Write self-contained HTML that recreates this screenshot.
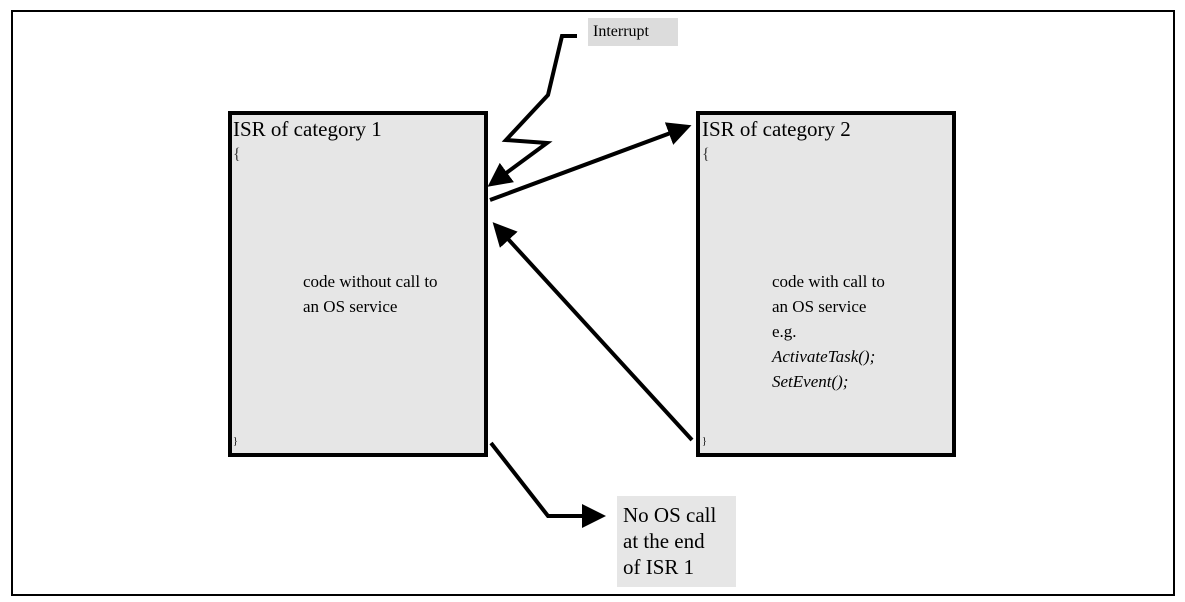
<!DOCTYPE html>
<html><head><style>
body{margin:0;width:1185px;height:602px;background:#fff;position:relative;overflow:hidden;font-family:"Liberation Serif",serif;color:#000}
.a{position:absolute}
</style></head><body>
<div class="a" style="left:11px;top:10px;width:1160px;height:582px;border:2px solid #000"></div>
<div class="a" style="left:228px;top:111px;width:252px;height:338px;border:4px solid #000;background:#e6e6e6"></div>
<div class="a" style="left:696px;top:111px;width:252px;height:338px;border:4px solid #000;background:#e6e6e6"></div>
<div class="a" style="left:233px;top:117px;font-size:21px">ISR of category 1</div>
<div class="a" style="left:233px;top:146px;font-size:16px;color:#333">{</div>
<div class="a" style="left:233px;top:436px;font-size:10px">}</div>
<div class="a" style="left:702px;top:117px;font-size:21px">ISR of category 2</div>
<div class="a" style="left:702px;top:146px;font-size:16px;color:#333">{</div>
<div class="a" style="left:702px;top:436px;font-size:10px">}</div>
<div class="a" style="left:303px;top:269px;font-size:17px;line-height:25px">code without call to<br>an OS service</div>
<div class="a" style="left:772px;top:269px;font-size:17px;line-height:25px">code with call to<br>an OS service<br>e.g.<br><i>ActivateTask();</i><br><i>SetEvent();</i></div>
<div class="a" style="left:588px;top:18px;width:90px;height:28px;background:#dcdcdc;font-size:16px;line-height:28px;text-indent:5px">Interrupt</div>
<div class="a" style="left:617px;top:496px;width:119px;height:91px;background:#e6e6e6;font-size:21px;line-height:26px;padding:6px 0 0 6px;box-sizing:border-box">No OS call<br>at the end<br>of ISR 1</div>
<svg class="a" style="left:0;top:0" width="1185" height="602">
<defs><marker id="m" markerWidth="6" markerHeight="6" refX="4" refY="3" orient="auto" markerUnits="strokeWidth"><path d="M0,0 L6,3 L0,6 z" fill="#000"/></marker></defs>
<g stroke="#000" stroke-width="4" fill="none">
<polyline points="577,36 562,36 548,95 506,140 547,143 494,182" marker-end="url(#m)"/>
<line x1="490" y1="200" x2="684" y2="128" marker-end="url(#m)"/>
<line x1="692" y1="440" x2="498" y2="228" marker-end="url(#m)"/>
<polyline points="491,443 548,516 598,516" marker-end="url(#m)"/>
</g></svg>
</body></html>
